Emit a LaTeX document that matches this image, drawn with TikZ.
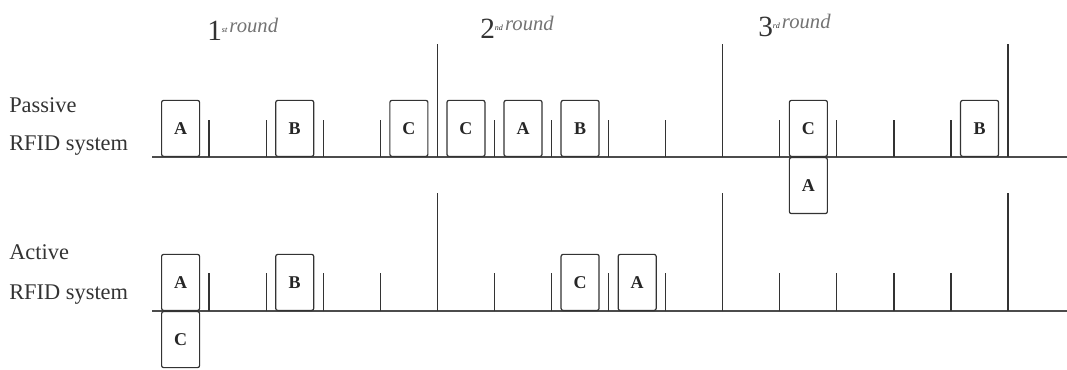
\documentclass[tikz,border=0pt]{standalone}
\usepackage{fontspec}
\setmainfont{Liberation Serif}
\begin{document}
\begin{tikzpicture}[x=0.75pt,y=-0.75pt,
  axisline/.style={draw=black!70, line width=0.9pt},
  tickline/.style={draw=black!80, line width=0.9pt},
  slotbox/.style={draw=black!80, line width=0.9pt, rounded corners=1.5pt,
    minimum width=28.5pt, minimum height=42pt, inner sep=0pt,
    font=\fontsize{13.5}{13.5}\selectfont\bfseries, text=black!85},
  sidelabel/.style={anchor=base west, inner sep=0pt,
    font=\fontsize{16.8}{19}\selectfont, text=black!80},
  roundlabel/.style={anchor=base west, inner sep=0pt, text=black!80}
]
\useasboundingbox (0,0) rectangle (1067,370);
\def\roundtxt#1#2{{\fontsize{22}{22}\selectfont #1}\raisebox{6.5pt}{{\fontsize{6}{6}\selectfont\itshape #2}\,{\fontsize{15.5}{15.5}\selectfont\itshape\color{black!55}round}}}

% round labels
\node[roundlabel] (r1) at (207,41) {\roundtxt{1}{st}};
\node[roundlabel] (r2) at (480,39) {\roundtxt{2}{nd}};
\node[roundlabel] (r3) at (758,37) {\roundtxt{3}{rd}};

% side labels
\node[sidelabel] (pl1) at (9,113) {Passive};
\node[sidelabel] (pl2) at (9,151) {RFID system};
\node[sidelabel] (al1) at (9,260) {Active};
\node[sidelabel] (al2) at (9,300) {RFID system};

% base lines
\coordinate (p0) at (152,157);
\coordinate (pE) at (1067,157);
\coordinate (a0) at (152,311);
\coordinate (aE) at (1067,311);
\draw[axisline] (p0) -- (pE);
\draw[axisline] (a0) -- (aE);

% ticks
\foreach \k in {1,2,3,4,6,7,8,9,11,12,13,14}{
  \draw[tickline] ({152+57.07*\k},157) -- ++(0,-37);
  \draw[tickline] ({152+57.07*\k},311) -- ++(0,-38);
}
\foreach \k in {5,10,15}{
  \draw[tickline] ({152+57.07*\k},157) -- ++(0,-113);
  \draw[tickline] ({152+57.07*\k},311) -- ++(0,-118);
}

% passive boxes
\foreach \k/\t in {0/A,2/B,4/C,5/C,6/A,7/B,11/C,14/B}{
  \node[slotbox, anchor=south west] (pu\k) at ({161+57.07*\k},157) {\t};
}
\node[slotbox, anchor=north west] (pd11) at ({161+57.07*11},157) {A};

% active boxes
\foreach \k/\t in {0/A,2/B,7/C,8/A}{
  \node[slotbox, anchor=south west] (au\k) at ({161+57.07*\k},311) {\t};
}
\node[slotbox, anchor=north west] (ad0) at (161,311) {C};
\end{tikzpicture}
\end{document}
